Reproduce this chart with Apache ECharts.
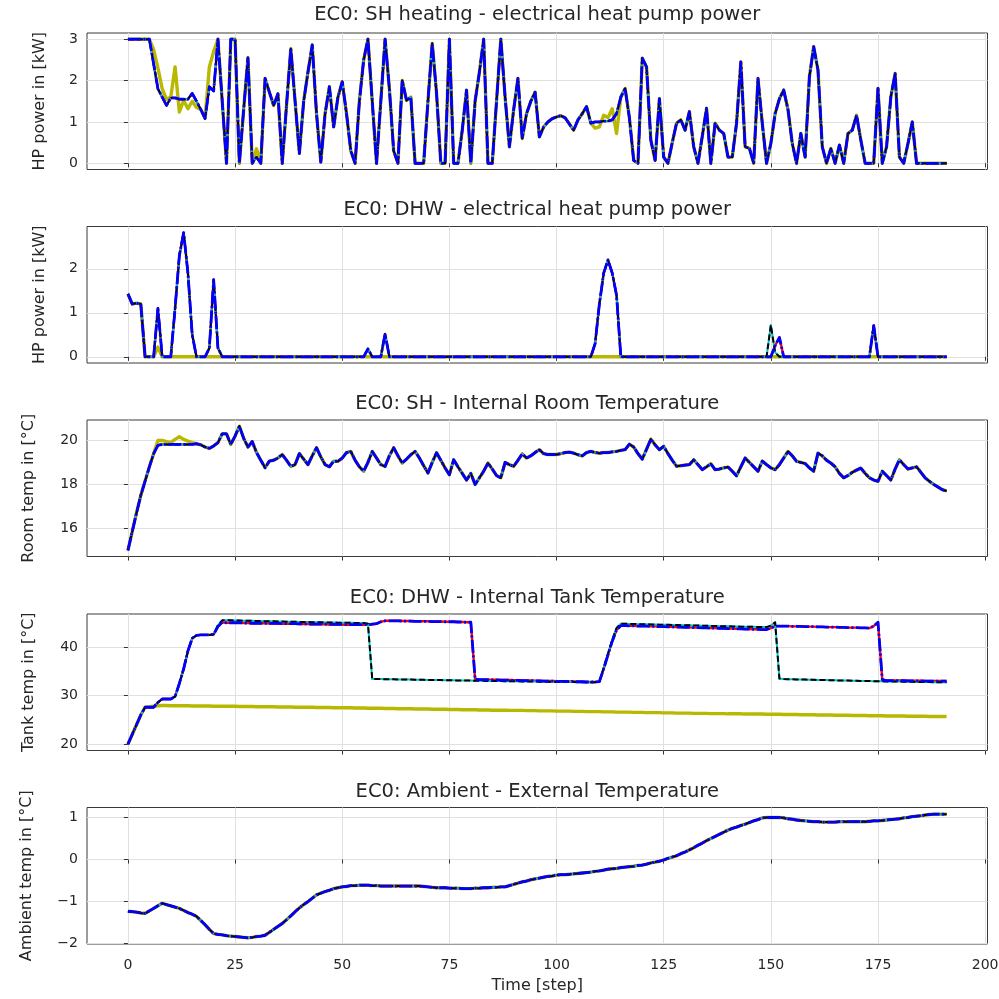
<!DOCTYPE html>
<html><head><meta charset="utf-8">
<script src="https://cdn.jsdelivr.net/npm/echarts@6/dist/echarts.min.js"></script>
<style>html,body{margin:0;padding:0;background:#fff}#c{width:999px;height:999px}</style>
</head><body><div id="c"></div>
<script>
// ---------- text ----------
const titles = [
  'EC0: SH heating - electrical heat pump power',
  'EC0: DHW - electrical heat pump power',
  'EC0: SH - Internal Room Temperature',
  'EC0: DHW - Internal Tank Temperature',
  'EC0: Ambient - External Temperature'
];
const yNames = ['HP power in [kW]','HP power in [kW]','Room temp in [\u00b0C]','Tank temp in [\u00b0C]','Ambient temp in [\u00b0C]'];
const xName = 'Time [step]';
const xTicks = [0,25,50,75,100,125,150,175,200];
const yTicks = [[0,1,2,3],[0,1,2],[16,18,20],[20,30,40],[-2,-1,0,1]];
const yRange = [[-0.15,3.15],[-0.141,2.96],[14.72,20.93],[18.7,46.8],[-2.0075,1.2375]];

// ---------- data (time step 0..191) ----------
const shHeatMain = [
3,3,3,3,3,3,2.4,1.8,1.6,1.4,
1.58,1.58,1.55,1.55,1.55,1.69,1.5,1.3,1.08,1.85,
1.75,3,1.5,0,3,3,0,1.3,2.55,0,
0.15,0,2.05,1.72,1.4,1.68,0,1.4,2.77,1.5,
0.24,1.5,2.2,2.86,1.2,0.03,1.2,1.85,0.88,1.6,
1.97,1.2,0.3,0,1.5,2.5,3,1.5,0,1.5,
3,1.8,0.3,0,2.0,1.52,1.6,0,0,0,
1.5,2.9,1.7,0,0,3,0,0,0.8,1.77,
0,1.5,2.2,3,0,0,1.5,3,1.6,0.4,
1.3,2.05,0.6,1.2,1.5,1.72,0.64,0.88,1.0,1.08,
1.12,1.15,1.1,0.95,0.8,1.05,1.2,1.37,0.97,1.0,
1.0,1.02,1.02,1.05,1.2,1.6,1.81,1.1,0.07,0,
2.54,2.33,0.56,0.07,1.56,0.15,0,0.5,0.97,1.05,
0.8,1.25,0.4,0,0.65,1.33,0,0.97,0.8,0.72,
0.15,0.15,0.97,2.45,0.4,0.36,0,2.05,0.97,0,
0.48,1.2,1.56,1.77,1.3,0.48,0,0.72,0.15,2.09,
2.82,2.25,0.4,0,0.36,0,0.44,0,0.72,0.8,
1.16,0.56,0,0,0,1.81,0,0.4,1.61,2.17,
0.15,0,0.48,1.0,0,0,0,0,0,0,
0,0];
const shHeatAlt = [
3,3,3,3,3,3,2.75,2.3,1.8,1.55,
1.6,2.33,1.24,1.52,1.32,1.5,1.35,1.3,1.1,2.33,
2.7,3,1.5,0,3,3,0,1.3,2.55,0,
0.35,0,2.05,1.72,1.4,1.68,0,1.4,2.77,1.5,
0.24,1.5,2.2,2.86,1.2,0.03,1.2,1.85,0.88,1.6,
1.97,1.2,0.3,0,1.5,2.5,3,1.5,0,1.5,
3,1.8,0.3,0,2.0,1.52,1.6,0,0,0,
1.5,2.9,1.7,0,0,3,0,0,0.8,1.77,
0,1.5,2.2,3,0,0,1.5,3,1.6,0.4,
1.3,2.05,0.6,1.2,1.5,1.72,0.64,0.88,1.0,1.08,
1.12,1.15,1.1,0.95,0.8,1.05,1.2,1.37,0.97,0.85,
0.88,1.16,1.1,1.32,0.72,1.6,1.81,1.1,0.07,0,
2.54,2.33,0.56,0.07,1.56,0.15,0,0.5,0.97,1.05,
0.8,1.25,0.4,0,0.65,1.33,0,0.97,0.8,0.72,
0.15,0.15,0.97,2.45,0.4,0.36,0,2.05,0.97,0,
0.48,1.2,1.56,1.77,1.3,0.48,0,0.72,0.15,2.09,
2.82,2.25,0.4,0,0.36,0,0.44,0,0.72,0.8,
1.16,0.56,0,0,0,1.81,0,0.4,1.61,2.17,
0.15,0,0.48,1.0,0,0,0,0,0,0,
0,0];

const dhwPowerA = [
1.43,1.2,1.22,1.2,0,0,0,1.1,0,0,
0,1.1,2.3,2.82,1.9,0.5,0,0,0,0.2,
1.75,0.2,0,0,0,0,0,0,0,0,
0,0,0,0,0,0,0,0,0,0,
0,0,0,0,0,0,0,0,0,0,
0,0,0,0,0,0,0.18,0,0,0,
0.52,0,0,0,0,0,0,0,0,0,
0,0,0,0,0,0,0,0,0,0,
0,0,0,0,0,0,0,0,0,0,
0,0,0,0,0,0,0,0,0,0,
0,0,0,0,0,0,0,0,0,0.3,
1.2,1.9,2.2,1.9,1.4,0,0,0,0,0,
0,0,0,0,0,0,0,0,0,0,
0,0,0,0,0,0,0,0,0,0,
0,0,0,0,0,0,0,0,0,0,
0,0.25,0.44,0,0,0,0,0,0,0,
0,0,0,0,0,0,0,0,0,0,
0,0,0,0,0.71,0,0,0,0,0,
0,0,0,0,0,0,0,0,0,0,
0,0];
const dhwPowerB = [
1.43,1.2,1.22,1.2,0,0,0,1.1,0,0,
0,1.1,2.3,2.82,1.9,0.5,0,0,0,0.2,
1.75,0.2,0,0,0,0,0,0,0,0,
0,0,0,0,0,0,0,0,0,0,
0,0,0,0,0,0,0,0,0,0,
0,0,0,0,0,0,0.18,0,0,0,
0.52,0,0,0,0,0,0,0,0,0,
0,0,0,0,0,0,0,0,0,0,
0,0,0,0,0,0,0,0,0,0,
0,0,0,0,0,0,0,0,0,0,
0,0,0,0,0,0,0,0,0,0.3,
1.2,1.9,2.2,1.9,1.4,0,0,0,0,0,
0,0,0,0,0,0,0,0,0,0,
0,0,0,0,0,0,0,0,0,0,
0,0,0,0,0,0,0,0,0,0,
0.72,0.1,0,0,0,0,0,0,0,0,
0,0,0,0,0,0,0,0,0,0,
0,0,0,0,0.71,0,0,0,0,0,
0,0,0,0,0,0,0,0,0,0,
0,0];
const dhwPowerAlt = [
1.43,1.2,1.22,1.2,0,0,0,0.22,0,0,
0,0,0,0,0,0,0,0,0,0,
0,0,0,0,0,0,0,0,0,0,
0,0,0,0,0,0,0,0,0,0,
0,0,0,0,0,0,0,0,0,0,
0,0,0,0,0,0,0,0,0,0,
0,0,0,0,0,0,0,0,0,0,
0,0,0,0,0,0,0,0,0,0,
0,0,0,0,0,0,0,0,0,0,
0,0,0,0,0,0,0,0,0,0,
0,0,0,0,0,0,0,0,0,0,
0,0,0,0,0,0,0,0,0,0,
0,0,0,0,0,0,0,0,0,0,
0,0,0,0,0,0,0,0,0,0,
0,0,0,0,0,0,0,0,0,0,
0,0,0,0,0,0,0,0,0,0,
0,0,0,0,0,0,0,0,0,0,
0,0,0,0,0,0,0,0,0,0,
0,0,0,0,0,0,0,0,0,0,
0,0];

const roomMain = [
15.0,15.85,16.7,17.5,18.15,18.8,19.4,19.78,19.82,19.82,
19.82,19.82,19.82,19.82,19.82,19.82,19.85,19.8,19.7,19.64,
19.75,19.9,20.3,20.3,19.82,20.2,20.65,20.1,19.7,19.95,
19.45,19.1,18.76,19.06,19.1,19.2,19.36,19.1,18.82,18.9,
19.4,19.15,18.9,19.3,19.67,19.25,18.9,18.8,19.06,19.05,
19.2,19.45,19.5,19.1,18.8,18.6,19.0,19.5,19.2,18.9,
18.82,19.3,19.67,19.3,18.97,19.15,19.35,19.5,19.2,18.85,
18.52,19.0,19.44,19.1,18.75,18.44,19.12,18.8,18.5,18.2,
18.5,18.0,18.3,18.6,18.97,18.7,18.4,18.3,19.0,18.9,
18.82,19.1,19.39,19.2,19.3,19.45,19.58,19.4,19.36,19.36,
19.36,19.4,19.45,19.47,19.42,19.35,19.3,19.45,19.5,19.45,
19.42,19.45,19.45,19.48,19.5,19.55,19.58,19.83,19.7,19.4,
19.15,19.6,20.06,19.8,19.58,19.73,19.4,19.1,18.83,18.85,
18.88,18.9,19.12,18.9,18.67,18.8,18.94,18.67,18.7,18.75,
18.79,18.6,18.39,18.8,19.2,19.0,18.8,18.6,19.06,18.9,
18.75,18.67,18.9,19.2,19.5,19.3,19.05,19.0,18.95,18.75,
18.6,19.42,19.3,19.1,18.97,18.8,18.5,18.3,18.4,18.55,
18.65,18.74,18.5,18.3,18.2,18.14,18.6,18.4,18.2,18.7,
19.12,18.9,18.7,18.75,18.8,18.55,18.3,18.14,18.0,17.88,
17.76,17.7];
const roomAlt = [
15.0,15.85,16.7,17.5,18.15,18.8,19.4,20.0,20.0,19.95,
19.9,20.05,20.17,20.05,19.97,19.9,19.85,19.8,19.7,19.64,
19.75,19.9,20.3,20.3,19.82,20.2,20.65,20.1,19.7,19.95,
19.45,19.1,18.76,19.06,19.1,19.2,19.36,19.1,18.82,18.9,
19.4,19.15,18.9,19.3,19.67,19.25,18.9,18.8,19.06,19.05,
19.2,19.45,19.5,19.1,18.8,18.6,19.0,19.5,19.2,18.9,
18.82,19.3,19.67,19.3,18.97,19.15,19.35,19.5,19.2,18.85,
18.52,19.0,19.44,19.1,18.75,18.44,19.12,18.8,18.5,18.2,
18.5,18.0,18.3,18.6,18.97,18.7,18.4,18.3,19.0,18.9,
18.82,19.1,19.39,19.2,19.3,19.45,19.58,19.4,19.36,19.36,
19.36,19.4,19.45,19.47,19.42,19.35,19.3,19.45,19.5,19.45,
19.42,19.45,19.45,19.48,19.5,19.55,19.58,19.83,19.7,19.4,
19.15,19.6,20.06,19.8,19.58,19.73,19.4,19.1,18.83,18.85,
18.88,18.9,19.12,18.9,18.67,18.8,18.94,18.67,18.7,18.75,
18.79,18.6,18.39,18.8,19.2,19.0,18.8,18.6,19.06,18.9,
18.75,18.67,18.9,19.2,19.5,19.3,19.05,19.0,18.95,18.75,
18.6,19.42,19.3,19.1,18.97,18.8,18.5,18.3,18.4,18.55,
18.65,18.74,18.5,18.3,18.2,18.14,18.6,18.4,18.2,18.7,
19.12,18.9,18.7,18.75,18.8,18.55,18.3,18.14,18.0,17.88,
17.76,17.7];

const tankA = [
20,22,24,26,27.6,27.6,27.6,28.6,29.3,29.3,
29.3,29.8,32.5,35.5,39.2,41.8,42.4,42.5,42.5,42.5,
42.6,44.2,45.1,45.0,45.0,45.0,45.0,44.95,44.95,44.9,
44.9,44.9,44.9,44.85,44.85,44.85,44.8,44.8,44.8,44.8,
44.75,44.75,44.75,44.7,44.7,44.7,44.7,44.65,44.65,44.65,
44.65,44.6,44.6,44.6,44.6,44.6,44.6,44.7,44.8,45.2,
45.4,45.4,45.4,45.4,45.35,45.35,45.35,45.3,45.3,45.3,
45.3,45.25,45.25,45.25,45.2,45.2,45.2,45.15,45.15,45.1,
45.1,33.4,33.3,33.3,33.3,33.25,33.25,33.2,33.2,33.2,
33.15,33.15,33.1,33.1,33.1,33.05,33.05,33.0,33.0,33.0,
32.95,32.95,32.9,32.9,32.9,32.85,32.85,32.8,32.8,32.8,
32.9,35.5,38.4,41.2,43.5,44.4,44.4,44.35,44.35,44.3,
44.3,44.3,44.25,44.25,44.2,44.2,44.15,44.15,44.1,44.1,
44.05,44.05,44.0,44.0,43.95,43.95,43.9,43.9,43.85,43.85,
43.8,43.8,43.75,43.75,43.7,43.7,43.65,43.65,43.6,43.6,
43.9,44.3,44.3,44.3,44.3,44.25,44.25,44.25,44.2,44.2,
44.2,44.15,44.15,44.1,44.1,44.1,44.05,44.05,44.0,44.0,
44.0,43.95,43.95,43.9,44.3,45.1,33.3,33.1,33.1,33.1,
33.1,33.1,33.05,33.05,33.05,33.05,33.0,33.0,33.0,33.0,
33.0,33.0];
const tankB = [
20,22,24,26,27.6,27.6,27.6,28.6,29.3,29.3,
29.3,29.8,32.5,35.5,39.2,41.8,42.4,42.5,42.5,42.5,
42.6,44.5,45.5,45.5,45.5,45.45,45.45,45.4,45.4,45.4,
45.35,45.35,45.3,45.3,45.3,45.25,45.25,45.2,45.2,45.2,
45.15,45.15,45.15,45.1,45.1,45.1,45.05,45.05,45.05,45.0,
45.0,45.0,45.0,44.95,44.95,44.95,44.8,33.4,33.4,33.4,
33.35,33.35,33.35,33.3,33.3,33.3,33.3,33.25,33.25,33.25,
33.2,33.2,33.2,33.2,33.15,33.15,33.15,33.1,33.1,33.1,
33.1,33.05,33.05,33.05,33.0,33.0,33.0,33.0,32.95,32.95,
32.95,32.95,32.9,32.9,32.9,32.9,32.85,32.85,32.85,32.85,
32.8,32.8,32.8,32.8,32.8,32.75,32.75,32.75,32.75,32.75,
32.9,35.7,38.6,41.5,43.9,44.8,44.8,44.75,44.75,44.7,
44.7,44.7,44.65,44.65,44.6,44.6,44.6,44.55,44.55,44.5,
44.5,44.5,44.45,44.45,44.4,44.4,44.35,44.35,44.3,44.3,
44.3,44.25,44.25,44.2,44.2,44.15,44.15,44.1,44.1,44.1,
44.4,45.1,33.5,33.4,33.35,33.35,33.3,33.3,33.3,33.25,
33.25,33.2,33.2,33.2,33.15,33.15,33.1,33.1,33.1,33.05,
33.05,33.0,33.0,33.0,32.95,32.95,32.95,32.9,32.9,32.9,
32.9,32.85,32.85,32.85,32.8,32.8,32.8,32.8,32.75,32.75,
32.75,32.75];
const tankAlt = [
20,22,24,26,27.6,27.7,27.8,27.9,27.95,27.95,
27.9,27.9,27.9,27.9,27.9,27.85,27.85,27.85,27.85,27.85,
27.8,27.8,27.8,27.8,27.8,27.8,27.75,27.75,27.75,27.75,
27.7,27.7,27.7,27.7,27.7,27.65,27.65,27.65,27.65,27.6,
27.6,27.6,27.6,27.6,27.55,27.55,27.55,27.55,27.5,27.5,
27.5,27.5,27.5,27.45,27.45,27.45,27.4,27.4,27.4,27.4,
27.35,27.35,27.35,27.3,27.3,27.3,27.3,27.25,27.25,27.25,
27.25,27.2,27.2,27.2,27.2,27.15,27.15,27.15,27.1,27.1,
27.1,27.1,27.05,27.05,27.05,27.0,27.0,27.0,27.0,26.95,
26.95,26.95,26.95,26.9,26.9,26.9,26.85,26.85,26.85,26.85,
26.8,26.8,26.8,26.8,26.75,26.75,26.75,26.7,26.7,26.7,
26.7,26.65,26.65,26.65,26.6,26.6,26.6,26.6,26.55,26.55,
26.55,26.5,26.5,26.5,26.5,26.45,26.45,26.45,26.4,26.4,
26.4,26.4,26.35,26.35,26.35,26.35,26.3,26.3,26.3,26.3,
26.25,26.25,26.25,26.25,26.2,26.2,26.2,26.2,26.2,26.15,
26.15,26.15,26.15,26.1,26.1,26.1,26.1,26.05,26.05,26.05,
26.05,26.0,26.0,26.0,26.0,25.95,25.95,25.95,25.95,25.9,
25.9,25.9,25.9,25.85,25.85,25.85,25.85,25.8,25.8,25.8,
25.8,25.8,25.75,25.75,25.75,25.75,25.75,25.7,25.7,25.7,
25.7,25.7];

const ambient = [
-1.23,-1.24,-1.25,-1.27,-1.28,-1.22,-1.16,-1.10,-1.04,-1.07,
-1.10,-1.13,-1.16,-1.21,-1.26,-1.30,-1.35,-1.45,-1.55,-1.66,
-1.76,-1.78,-1.79,-1.81,-1.82,-1.83,-1.84,-1.85,-1.86,-1.85,
-1.83,-1.82,-1.80,-1.73,-1.66,-1.59,-1.52,-1.43,-1.34,-1.24,
-1.15,-1.07,-1.00,-0.92,-0.84,-0.80,-0.76,-0.73,-0.69,-0.67,
-0.65,-0.64,-0.62,-0.62,-0.61,-0.61,-0.61,-0.62,-0.62,-0.63,
-0.63,-0.63,-0.63,-0.63,-0.63,-0.63,-0.63,-0.63,-0.63,-0.64,
-0.65,-0.66,-0.67,-0.67,-0.67,-0.68,-0.68,-0.68,-0.69,-0.69,
-0.69,-0.68,-0.68,-0.67,-0.67,-0.66,-0.66,-0.65,-0.65,-0.62,
-0.59,-0.56,-0.53,-0.51,-0.48,-0.46,-0.44,-0.42,-0.40,-0.39,
-0.37,-0.36,-0.36,-0.35,-0.34,-0.33,-0.32,-0.31,-0.30,-0.28,
-0.27,-0.25,-0.23,-0.22,-0.21,-0.19,-0.18,-0.17,-0.16,-0.14,
-0.13,-0.11,-0.08,-0.06,-0.04,-0.01,0.03,0.06,0.09,0.14,
0.18,0.23,0.28,0.34,0.39,0.45,0.50,0.55,0.60,0.65,
0.70,0.74,0.77,0.81,0.84,0.88,0.92,0.95,0.99,1.0,
1.0,1.0,1.0,0.99,0.97,0.96,0.94,0.93,0.92,0.91,
0.90,0.90,0.89,0.89,0.89,0.89,0.90,0.90,0.90,0.90,
0.90,0.90,0.90,0.91,0.92,0.92,0.93,0.94,0.95,0.96,
0.97,0.99,1.00,1.02,1.03,1.04,1.06,1.07,1.08,1.08,
1.08,1.08];

// per panel: [yellow, red, cyan, black, blue]
const panelData = [
  [shHeatAlt, shHeatMain, shHeatMain, shHeatMain, shHeatMain],
  [dhwPowerAlt, dhwPowerA, dhwPowerB, dhwPowerB, dhwPowerA],
  [roomAlt, roomMain, roomMain, roomMain, roomMain],
  [tankAlt, tankA, tankB, tankB, tankA],
  [ambient, ambient, ambient, ambient, ambient]
];

// ---------- layout / style ----------
const FONT = 'DejaVu Sans';
const TXT = '#262626';
const gridLeft = 87, gridRight = 11.5, gridH = 136.5;
const tops = [33, 226.5, 420, 614, 807.5];
const titleY = [15, 210, 404, 598, 792];
const nameGaps = [39, 39, 50, 50, 52];
const styles = [
  {color:'#b8b800', width:3.4, type:'solid'},
  {color:'#ff0000', width:2.4, type:'solid'},
  {color:'#00c0c0', width:2.0, type:'solid'},
  {color:'#000000', width:2.0, type:[6,3]},
  {color:'#0000ff', width:2.8, type:[13,2.5,2,2.5]}
];
const fmt = v => (v < 0 ? '\u2212' + Math.abs(v) : String(v));

const grids = [], xAxes = [], yAxes = [], series = [], graphics = [];
for (let g = 0; g < 5; g++) {
  grids.push({left: gridLeft, right: gridRight, top: tops[g], height: gridH,
    show: true, borderColor: '#3a3a3a', borderWidth: 1, backgroundColor: 'transparent',
    outerBoundsMode: 'none', containLabel: false});
  xAxes.push({type: 'value', gridIndex: g, min: -9.55, max: 200.55,
    axisLine: {show: false},
    axisTick: {show: true, length: 4, inside: false, customValues: xTicks, lineStyle: {color: '#333', width: 1}},
    axisLabel: {show: g === 4, customValues: xTicks, color: TXT, fontSize: 14, fontFamily: FONT, margin: 14},
    splitLine: {show: true, lineStyle: {color: '#e0e0e0', width: 1}},
    name: g === 4 ? xName : '', nameLocation: 'middle', nameGap: 34,
    nameTextStyle: {color: TXT, fontSize: 16, fontFamily: FONT}
  });
  yAxes.push({type: 'value', gridIndex: g, min: yRange[g][0], max: yRange[g][1],
    axisLine: {show: false},
    axisTick: {show: true, length: 4, customValues: yTicks[g], lineStyle: {color: '#333', width: 1}},
    axisLabel: {show: true, customValues: yTicks[g], formatter: fmt, color: TXT, fontSize: 14, fontFamily: FONT, margin: 9},
    splitLine: {show: true, lineStyle: {color: '#e0e0e0', width: 1}},
    name: yNames[g], nameLocation: 'middle', nameRotate: 90, nameGap: nameGaps[g],
    nameTextStyle: {color: TXT, fontSize: 16, fontFamily: FONT}
  });
  panelData[g].forEach((arr, k) => {
    const st = styles[k];
    series.push({type: 'line', xAxisIndex: g, yAxisIndex: g,
      data: arr.map((v, i) => [i, v]),
      symbol: 'none', showSymbol: false, silent: true, animation: false,
      lineStyle: {color: st.color, width: st.width, type: st.type, join: 'round', cap: 'butt'},
      itemStyle: {color: st.color}, emphasis: {disabled: true}, z: 2 + k
    });
  });
  graphics.push({type: 'text', x: gridLeft + (999 - gridLeft - gridRight) / 2, y: titleY[g],
    style: {text: titles[g], fill: TXT, font: '19.5px "' + FONT + '"', align: 'center', verticalAlign: 'middle'}});
}

const chart = echarts.init(document.getElementById('c'), null, {renderer: 'canvas', width: 999, height: 999});
chart.setOption({
  animation: false,
  backgroundColor: '#ffffff',
  grid: grids, xAxis: xAxes, yAxis: yAxes, series: series,
  graphic: graphics,
  tooltip: {show: false}
});
</script>
</body></html>
